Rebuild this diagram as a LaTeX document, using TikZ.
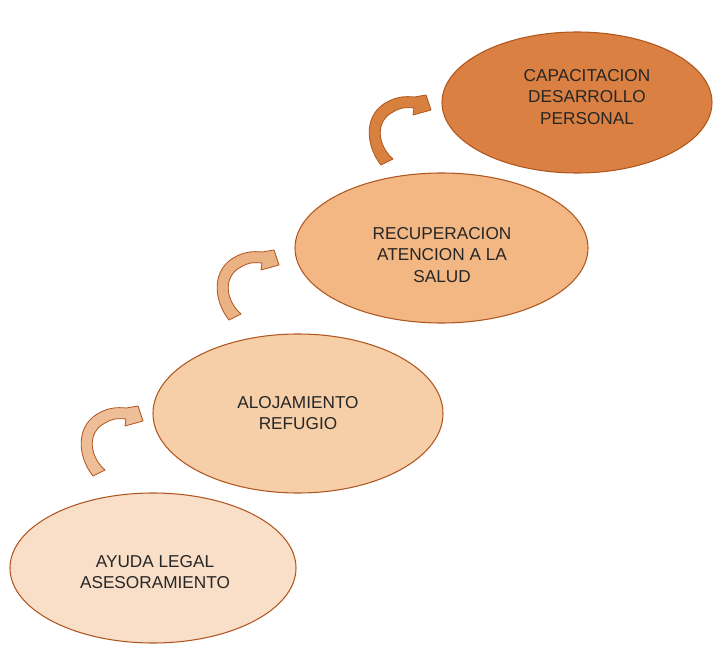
\documentclass[tikz,border=0pt]{standalone}
\usepackage{fontspec}
\setmainfont{Liberation Sans}
\usetikzlibrary{shapes.geometric}
\definecolor{eA}{HTML}{F9DEC8}
\definecolor{eB}{HTML}{F6CFA8}
\definecolor{eC}{HTML}{F3B784}
\definecolor{eD}{HTML}{D98042}
\definecolor{brd}{HTML}{B0561F}
\definecolor{txt}{HTML}{262626}
\definecolor{arA}{HTML}{EDBE98}
\definecolor{arB}{HTML}{EBB284}
\definecolor{arC}{HTML}{D8813F}
\tikzset{
  blob/.style={ellipse, draw=brd, line width=0.9pt, inner sep=0pt},
  lbl/.style={text=txt, align=center, font=\fontsize{14.7}{18.5}\selectfont},
  pics/curvarrow/.style={code={
    \draw[draw=brd, line width=0.7pt, fill=#1, line join=round]
      (-6,2) .. controls (-22,-18) and (-24,-50) .. (2,-62)
      .. controls (10,-66) and (18,-67) .. (27,-66)
      -- (39,-68) -- (44,-53) -- (26,-48) -- (27,-55)
      .. controls (18,-56) and (12,-55) .. (6,-51)
      .. controls (-12,-42) and (-10,-18) .. (6,-4) -- cycle;
  }}
}
\begin{document}
\begin{tikzpicture}[x=0.03cm, y=-0.03cm]
\useasboundingbox (0,0) rectangle (721,648);
\fill[white] (0,0) rectangle (721,648);
% ellipses
\node[blob, fill=eA, minimum width=286*0.03cm, minimum height=150*0.03cm] (e1) at (153,568) {};
\node[blob, fill=eB, minimum width=290*0.03cm, minimum height=159*0.03cm] (e2) at (298,413.5) {};
\node[blob, fill=eC, minimum width=293*0.03cm, minimum height=150*0.03cm] (e3) at (441.5,248) {};
\node[blob, fill=eD, minimum width=270*0.03cm, minimum height=141*0.03cm] (e4) at (577,102.5) {};
% labels
\node[lbl] (t1) at (155,572) {AYUDA LEGAL\\ASESORAMIENTO};
\node[lbl] (t2) at (298,413) {ALOJAMIENTO\\REFUGIO};
\node[lbl] (t3) at (442,255) {RECUPERACION\\ATENCION A LA\\SALUD};
\node[lbl] (t4) at (587,97) {CAPACITACION\\DESARROLLO\\PERSONAL};
% arrows
\pic at (99,474) {curvarrow=arA};
\pic at (235,318) {curvarrow=arB};
\pic at (387,163) {curvarrow=arC};
\end{tikzpicture}
\end{document}
